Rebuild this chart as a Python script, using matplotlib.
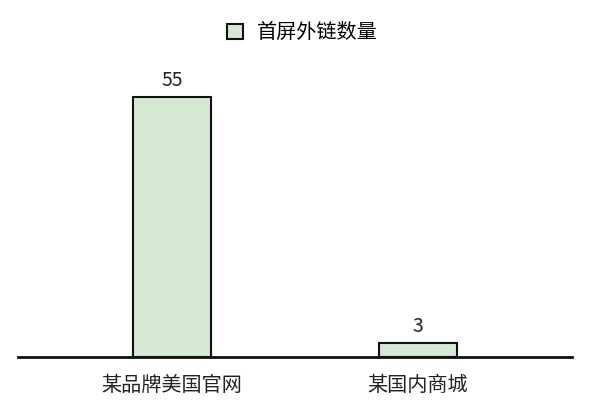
import matplotlib
matplotlib.use('Agg')
import matplotlib.pyplot as plt

categories = ['某品牌美国官网', '某国内商城']
values = [55, 3]
series_name = '首屏外链数量'

plt.rcParams['font.family'] = ['Noto Sans CJK SC', 'DejaVu Sans']

fig = plt.figure(figsize=(6.05, 4.17), dpi=100)
ax = fig.add_axes([18/605, 60/417, 554/605, 297/417])

x = list(range(len(categories)))
bars = ax.bar(x, values, width=0.32, color='#d5e8d4', edgecolor='#111111',
              linewidth=1.5, label=series_name)
for xi, v in zip(x, values):
    ax.text(xi, v + 1.2, str(v), ha='center', va='bottom', fontsize=14, color='#222222')

ax.set_xlim(-0.626, 1.626)
ax.set_ylim(0, 62.8)
ax.set_xticks(x)
ax.set_xticklabels(categories, fontsize=14.5, color='#222222')
ax.tick_params(axis='x', length=0, pad=13)
ax.set_yticks([])
for s in ['top', 'right', 'left']:
    ax.spines[s].set_visible(False)
ax.spines['bottom'].set_linewidth(2)
ax.spines['bottom'].set_color('#111111')

fig.legend(handles=[bars], labels=[series_name], loc='upper center',
           bbox_to_anchor=(0.5, 0.99), frameon=False, fontsize=14.5,
           handlelength=0.8, handleheight=0.8, handletextpad=0.7)

fig.savefig('out.png', dpi=100)
